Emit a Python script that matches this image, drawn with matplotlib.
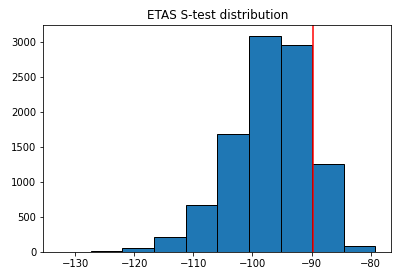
import matplotlib
matplotlib.use('Agg')
import matplotlib.pyplot as plt
import numpy as np

# bin edges and counts
edges = [-132.7, -127.35, -122.0, -116.65, -111.3, -105.95, -100.6, -95.25, -89.9, -84.55, -79.2]
counts = [5, 10, 57, 209, 670, 1683, 3091, 2962, 1260, 86]
observed = -89.75

fig = plt.figure(figsize=(393/72, 272/72), dpi=72)
ax = fig.add_axes([0.110, 0.0735, 0.8857, 0.8345])
ax.hist(edges[:-1], bins=edges, weights=counts, edgecolor='black')
ax.axvline(observed, color='red')
ax.set_xticks([-130, -120, -110, -100, -90, -80])
ax.set_title('ETAS S-test distribution')
fig.savefig('out.png', dpi=72)
